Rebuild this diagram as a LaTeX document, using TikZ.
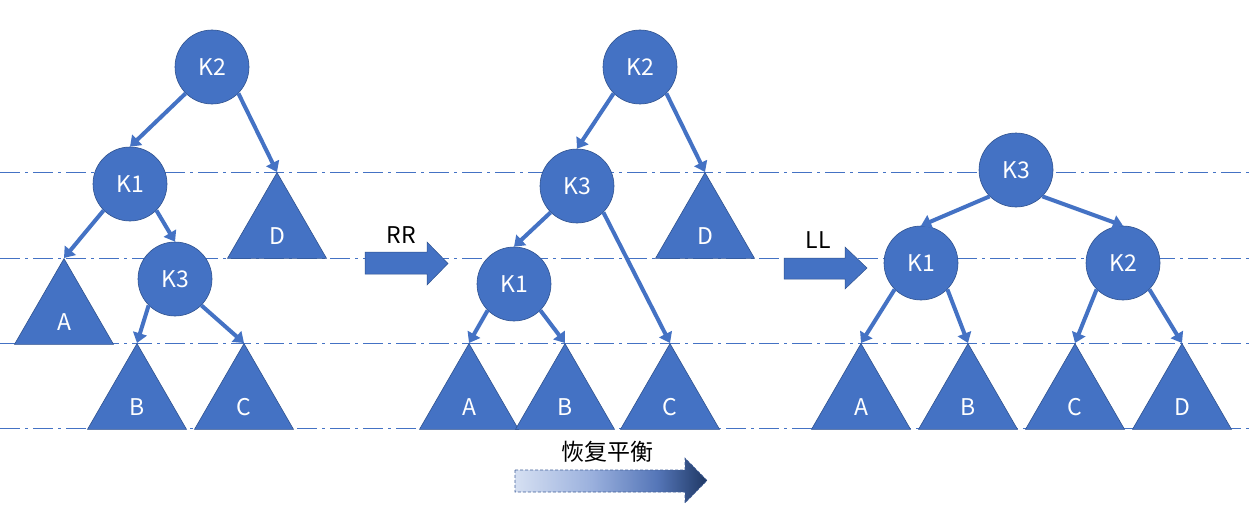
\documentclass[tikz,border=0pt]{standalone}
\usepackage{fontspec}
\setmainfont{Noto Sans CJK SC}
\usetikzlibrary{shapes.geometric,arrows.meta}
\definecolor{fillblue}{HTML}{4472C4}
\definecolor{edgeblue}{HTML}{2F528F}
\definecolor{edgedash}{HTML}{41609A}
\definecolor{lightgrad}{HTML}{D6E0F2}
\definecolor{midgradA}{HTML}{9AB0DD}
\definecolor{midgradB}{HTML}{5576B8}
\definecolor{darkgrad}{HTML}{1F3864}
\pgfdeclarehorizontalshading{balancegrad}{100bp}{
  color(0bp)=(lightgrad);
  color(25bp)=(lightgrad);
  color(45bp)=(midgradA);
  color(62bp)=(midgradB);
  color(75bp)=(darkgrad);
  color(100bp)=(darkgrad)}
\begin{document}
\begin{tikzpicture}[x=1pt,y=-1pt,
  keynode/.style={circle,fill=fillblue,draw=edgeblue,line width=0.6pt,minimum size=74pt,inner sep=0pt,text=white,font=\fontsize{23}{27}\selectfont},
  subtree/.style={regular polygon,regular polygon sides=3,minimum size=114.3pt,inner sep=0pt,fill=fillblue,draw=edgeblue,line width=0.6pt,anchor=corner 1},
  tlabel/.style={text=white,font=\fontsize{23}{27}\selectfont,inner sep=0pt},
  edge/.style={draw=fillblue,line width=4pt,-{Triangle[length=10pt,width=14pt]}},
  levelline/.style={draw=fillblue,line width=0.9pt,dash pattern=on 20pt off 5pt on 3pt off 5pt},
  blockarrow/.style={fill=fillblue,draw=edgeblue,line width=0.5pt},
  caption/.style={text=black,font=\fontsize{23}{27}\selectfont,inner sep=0pt}
]
\fill[white] (0,0) rectangle (1250,527);
\useasboundingbox (0,0) rectangle (1250,527);

% level lines
\coordinate (l1a) at (0,172); \coordinate (l1b) at (1250,172);
\coordinate (l2a) at (0,258); \coordinate (l2b) at (1250,258);
\coordinate (l3a) at (0,343); \coordinate (l3b) at (1250,343);
\coordinate (l4a) at (0,428); \coordinate (l4b) at (1250,428);
\draw[levelline] (l1a) -- (l1b);
\draw[levelline] (l2a) -- (l2b);
\draw[levelline] (l3a) -- (l3b);
\draw[levelline] (l4a) -- (l4b);

% ---------- tree 1 ----------
\node[keynode] (k2a) at (212,67) {K2};
\node[keynode] (k1a) at (130,184) {K1};
\node[keynode] (k3a) at (175,279) {K3};
\node[subtree] (Da) at (277,172) {};
\node[subtree] (Aa) at (64,258) {};
\node[subtree] (Ba) at (137,343) {};
\node[subtree] (Ca) at (244,343) {};
\node[tlabel] (Dal) at ([yshift=-64pt]Da.corner 1) {D};
\node[tlabel] (Aal) at ([yshift=-64pt]Aa.corner 1) {A};
\node[tlabel] (Bal) at ([yshift=-64pt]Ba.corner 1) {B};
\node[tlabel] (Cal) at ([yshift=-64pt]Ca.corner 1) {C};
\draw[edge] (k2a.south west) -- (k1a.north);
\draw[edge] (k2a.south east) -- (Da.corner 1);
\draw[edge] (k1a.south west) -- (Aa.corner 1);
\draw[edge] (k1a.south east) -- (k3a.north);
\draw[edge] (k3a.south west) -- (Ba.corner 1);
\draw[edge] (k3a.south east) -- (Ca.corner 1);

% ---------- tree 2 ----------
\node[keynode] (k2b) at (640,67) {K2};
\node[keynode] (k3b) at (577,186) {K3};
\node[keynode] (k1b) at (514,284) {K1};
\node[subtree] (Db) at (705,172) {};
\node[subtree] (Ab) at (469,343) {};
\node[subtree] (Bb) at (565,343) {};
\node[subtree] (Cb) at (670,343) {};
\node[tlabel] (Dbl) at ([yshift=-64pt]Db.corner 1) {D};
\node[tlabel] (Abl) at ([yshift=-64pt]Ab.corner 1) {A};
\node[tlabel] (Bbl) at ([yshift=-64pt]Bb.corner 1) {B};
\node[tlabel] (Cbl) at ([yshift=-64pt]Cb.corner 1) {C};
\draw[edge] (k2b.south west) -- (k3b.north);
\draw[edge] (k2b.south east) -- (Db.corner 1);
\draw[edge] (k3b.south west) -- (k1b.north);
\draw[edge] (k3b.south east) -- (Cb.corner 1);
\draw[edge] (k1b.south west) -- (Ab.corner 1);
\draw[edge] (k1b.south east) -- (Bb.corner 1);

% ---------- tree 3 ----------
\node[keynode] (k3c) at (1016,170) {K3};
\node[keynode] (k1c) at (921,263) {K1};
\node[keynode] (k2c) at (1123,263) {K2};
\node[subtree] (Ac) at (861,343) {};
\node[subtree] (Bc) at (968,343) {};
\node[subtree] (Cc) at (1075,343) {};
\node[subtree] (Dc) at (1182,343) {};
\node[tlabel] (Acl) at ([yshift=-64pt]Ac.corner 1) {A};
\node[tlabel] (Bcl) at ([yshift=-64pt]Bc.corner 1) {B};
\node[tlabel] (Ccl) at ([yshift=-64pt]Cc.corner 1) {C};
\node[tlabel] (Dcl) at ([yshift=-64pt]Dc.corner 1) {D};
\draw[edge] (k3c.south west) -- (k1c.north);
\draw[edge] (k3c.south east) -- (k2c.north);
\draw[edge] (k1c.south west) -- (Ac.corner 1);
\draw[edge] (k1c.south east) -- (Bc.corner 1);
\draw[edge] (k2c.south west) -- (Cc.corner 1);
\draw[edge] (k2c.south east) -- (Dc.corner 1);

% ---------- block arrows ----------
\path[blockarrow] (365,252) -- (427,252) -- (427,242) -- (448,263.5) -- (427,285) -- (427,274) -- (365,274) -- cycle;
\node[caption] (rr) at (401,235) {RR};
\path[blockarrow] (784,258) -- (845,258) -- (845,247) -- (867,268) -- (845,289) -- (845,279) -- (784,279) -- cycle;
\node[caption] (ll) at (818,240) {LL};
\shade[shading=balancegrad]
  (515,470) -- (685,470) -- (685,458) -- (707,480.5) -- (685,503) -- (685,492) -- (515,492) -- cycle;
\draw[edgedash,line width=0.6pt,dash pattern=on 3pt off 2pt]
  (515,470) -- (685,470) -- (685,458) -- (707,480.5) -- (685,503) -- (685,492) -- (515,492) -- cycle;
\node[caption] (hf) at (607,452) {恢复平衡};
\end{tikzpicture}
\end{document}
